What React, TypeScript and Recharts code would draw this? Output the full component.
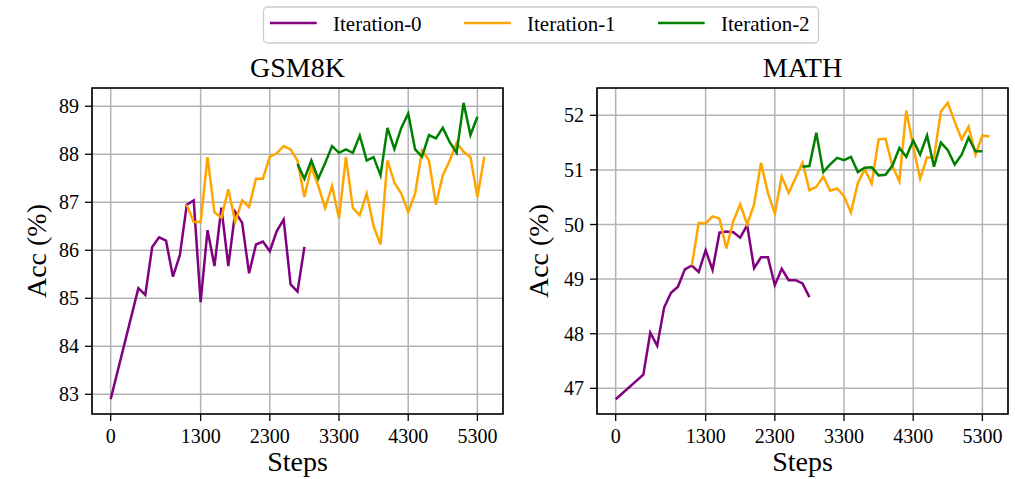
import React from 'react';
import { LineChart, Line, XAxis, YAxis, CartesianGrid, ReferenceArea } from 'recharts';

const FONT = '"Liberation Serif", "Times New Roman", serif';

const SERIES_NAMES = ['Iteration-0', 'Iteration-1', 'Iteration-2'];
const SERIES_COLORS = ['#800080', '#FFA500', '#008000'];
const SERIES_KEYS = ['it0', 'it1', 'it2'];

const X_TICKS = [0, 1300, 2300, 3300, 4300, 5300];
const X_DOMAIN: [number, number] = [-270, 5670];
const X_LABEL = 'Steps';
const Y_LABEL = 'Acc (%)';

const ITER0_STEPS = [0, 400, 500, 600, 700, 800, 900, 1000, 1100, 1200, 1300, 1400, 1500, 1600, 1700, 1800, 1900, 2000, 2100, 2200, 2300, 2400, 2500, 2600, 2700, 2800];
const ITER1_STEPS = [1100, 1200, 1300, 1400, 1500, 1600, 1700, 1800, 1900, 2000, 2100, 2200, 2300, 2400, 2500, 2600, 2700, 2800, 2900, 3000, 3100, 3200, 3300, 3400, 3500, 3600, 3700, 3800, 3900, 4000, 4100, 4200, 4300, 4400, 4500, 4600, 4700, 4800, 4900, 5000, 5100, 5200, 5300, 5400];
const ITER2_STEPS = [2700, 2800, 2900, 3000, 3100, 3200, 3300, 3400, 3500, 3600, 3700, 3800, 3900, 4000, 4100, 4200, 4300, 4400, 4500, 4600, 4700, 4800, 4900, 5000, 5100, 5200, 5300];

// GSM8K
const GSM_ITER0 = [82.90, 85.21, 85.07, 86.07, 86.27, 86.20, 85.45, 85.90, 86.95, 87.04, 84.92, 86.42, 85.67, 86.89, 85.67, 86.80, 86.57, 85.52, 86.12, 86.18, 85.98, 86.40, 86.64, 85.29, 85.14, 86.07];
const GSM_ITER1 = [86.95, 86.59, 86.59, 87.94, 86.79, 86.68, 87.27, 86.59, 87.04, 86.90, 87.49, 87.49, 87.95, 88.02, 88.17, 88.10, 87.87, 87.11, 87.74, 87.34, 86.88, 87.34, 86.66, 87.94, 86.88, 86.73, 87.18, 86.50, 86.12, 87.87, 87.41, 87.18, 86.80, 87.18, 88.08, 87.87, 86.95, 87.56, 87.87, 88.24, 88.05, 87.94, 87.11, 87.95];
const GSM_ITER2 = [87.80, 87.49, 87.87, 87.49, 87.82, 88.17, 88.03, 88.10, 88.03, 88.39, 87.87, 87.94, 87.56, 88.55, 88.11, 88.55, 88.85, 88.10, 87.95, 88.40, 88.33, 88.55, 88.25, 88.03, 89.07, 88.40, 88.78];
const GSM_Y_TICKS = [83, 84, 85, 86, 87, 88, 89];
const GSM_Y_DOMAIN: [number, number] = [82.59, 89.38];

// MATH
const MATH_ITER0 = [46.80, 47.25, 48.02, 47.78, 48.48, 48.75, 48.86, 49.18, 49.25, 49.13, 49.53, 49.17, 49.85, 49.87, 49.86, 49.76, 49.99, 49.20, 49.40, 49.40, 48.89, 49.19, 48.98, 48.98, 48.92, 48.67];
const MATH_ITER1 = [49.25, 50.03, 50.02, 50.15, 50.11, 49.56, 50.06, 50.37, 50.00, 50.37, 51.13, 50.58, 50.20, 50.88, 50.58, 50.85, 51.13, 50.63, 50.69, 50.88, 50.62, 50.66, 50.52, 50.22, 50.76, 51.01, 50.75, 51.56, 51.57, 51.07, 50.79, 52.09, 51.43, 50.84, 51.23, 51.22, 52.07, 52.23, 51.88, 51.56, 51.79, 51.28, 51.63, 51.61];
const MATH_ITER2 = [51.06, 51.07, 51.68, 50.96, 51.10, 51.22, 51.18, 51.24, 50.96, 51.04, 51.05, 50.90, 50.91, 51.08, 51.40, 51.24, 51.54, 51.28, 51.63, 51.06, 51.50, 51.36, 51.10, 51.28, 51.59, 51.34, 51.34];
const MATH_Y_TICKS = [47, 48, 49, 50, 51, 52];
const MATH_Y_DOMAIN: [number, number] = [46.53, 52.5];

const STEP_LISTS = [ITER0_STEPS, ITER1_STEPS, ITER2_STEPS];

function buildRows(valuesList: number[][]) {
  const map = new Map<number, any>();
  STEP_LISTS.forEach((steps, si) => {
    steps.forEach((s, i) => {
      if (!map.has(s)) map.set(s, { step: s });
      map.get(s)[SERIES_KEYS[si]] = valuesList[si][i];
    });
  });
  return Array.from(map.values()).sort((a, b) => a.step - b.step);
}

const GSM_ROWS = buildRows([GSM_ITER0, GSM_ITER1, GSM_ITER2]);
const MATH_ROWS = buildRows([MATH_ITER0, MATH_ITER1, MATH_ITER2]);

const CHART_W = 510;
const CHART_H = 479;
const MARGIN = { top: 88, right: 7, bottom: 5, left: 32 };
const Y_AXIS_W = 60;
const X_AXIS_H = 60;
const PANELS = [
  { title: 'GSM8K', left: 0, rows: GSM_ROWS, yDomain: GSM_Y_DOMAIN, yTicks: GSM_Y_TICKS, yLabelX: 45.5 },
  { title: 'MATH', left: 505, rows: MATH_ROWS, yDomain: MATH_Y_DOMAIN, yTicks: MATH_Y_TICKS, yLabelX: 547.5 },
];

const tickStyle = { fill: '#000', fontSize: 20, fontFamily: FONT };

function Panel(p: any) {
  return (
    <div style={{ position: 'absolute', left: p.left, top: 0 }}>
      <LineChart width={CHART_W} height={CHART_H} data={p.rows} margin={MARGIN}>
        <CartesianGrid stroke="#b3b3b3" strokeWidth={1.5} />
        <XAxis
          type="number"
          dataKey="step"
          domain={X_DOMAIN}
          ticks={X_TICKS}
          interval={0}
          allowDataOverflow
          height={X_AXIS_H}
          tickSize={7}
          tickMargin={8}
          axisLine={false}
          tickLine={{ stroke: '#000', strokeWidth: 1.3 }}
          tick={tickStyle}
        />
        <YAxis
          type="number"
          domain={p.yDomain}
          ticks={p.yTicks}
          interval={0}
          allowDataOverflow
          width={Y_AXIS_W}
          tickSize={7}
          tickMargin={6}
          axisLine={false}
          tickLine={{ stroke: '#000', strokeWidth: 1.3 }}
          tick={tickStyle}
        />
        <ReferenceArea
          x1={X_DOMAIN[0]}
          x2={X_DOMAIN[1]}
          y1={p.yDomain[0]}
          y2={p.yDomain[1]}
          fill="none"
          fillOpacity={0}
          stroke="#000"
          strokeWidth={1.6}
          ifOverflow="visible"
        />
        {SERIES_KEYS.map((k, i) => (
          <Line
            key={k}
            type="linear"
            dataKey={k}
            name={SERIES_NAMES[i]}
            stroke={SERIES_COLORS[i]}
            strokeWidth={2.5}
            dot={false}
            activeDot={false}
            isAnimationActive={false}
          />
        ))}
      </LineChart>
    </div>
  );
}

export default function App() {
  const plotW = CHART_W - MARGIN.left - MARGIN.right - Y_AXIS_W;
  const plotTop = MARGIN.top;
  const plotBottom = CHART_H - MARGIN.bottom - X_AXIS_H;
  const plotMidY = (plotTop + plotBottom) / 2;
  return (
    <div style={{ position: 'absolute', left: 0, top: 0, width: 1015, height: 479, background: '#fff', fontFamily: FONT }}>
      {PANELS.map((p) => (
        <Panel key={p.title} {...p} />
      ))}
      <svg width={1015} height={479} style={{ position: 'absolute', left: 0, top: 0, pointerEvents: 'none' }}>
        {PANELS.map((p) => {
          const cx = p.left + MARGIN.left + Y_AXIS_W + plotW / 2;
          return (
            <g key={p.title}>
              <text x={cx} y={77} textAnchor="middle" fontSize={28} fontFamily={FONT} fill="#000">
                {p.title}
              </text>
              <text x={cx} y={plotBottom + 56.5} textAnchor="middle" fontSize={28} fontFamily={FONT} fill="#000">
                {X_LABEL}
              </text>
              <text
                x={p.yLabelX}
                y={plotMidY}
                textAnchor="middle"
                fontSize={28}
                fontFamily={FONT}
                fill="#000"
                transform={`rotate(-90 ${p.yLabelX} ${plotMidY})`}
              >
                {Y_LABEL}
              </text>
            </g>
          );
        })}
        <rect x={263.5} y={7} width={555} height={36} rx={4} fill="#fff" stroke="#cccccc" strokeWidth={1.3} />
        {SERIES_NAMES.map((n, i) => (
          <g key={n}>
            <line x1={270 + 194 * i} x2={316.7 + 194 * i} y1={23} y2={23} stroke={SERIES_COLORS[i]} strokeWidth={2.7} />
            <text x={333 + 194 * i} y={31} fontSize={21} fontFamily={FONT} fill="#000">
              {n}
            </text>
          </g>
        ))}
      </svg>
    </div>
  );
}
